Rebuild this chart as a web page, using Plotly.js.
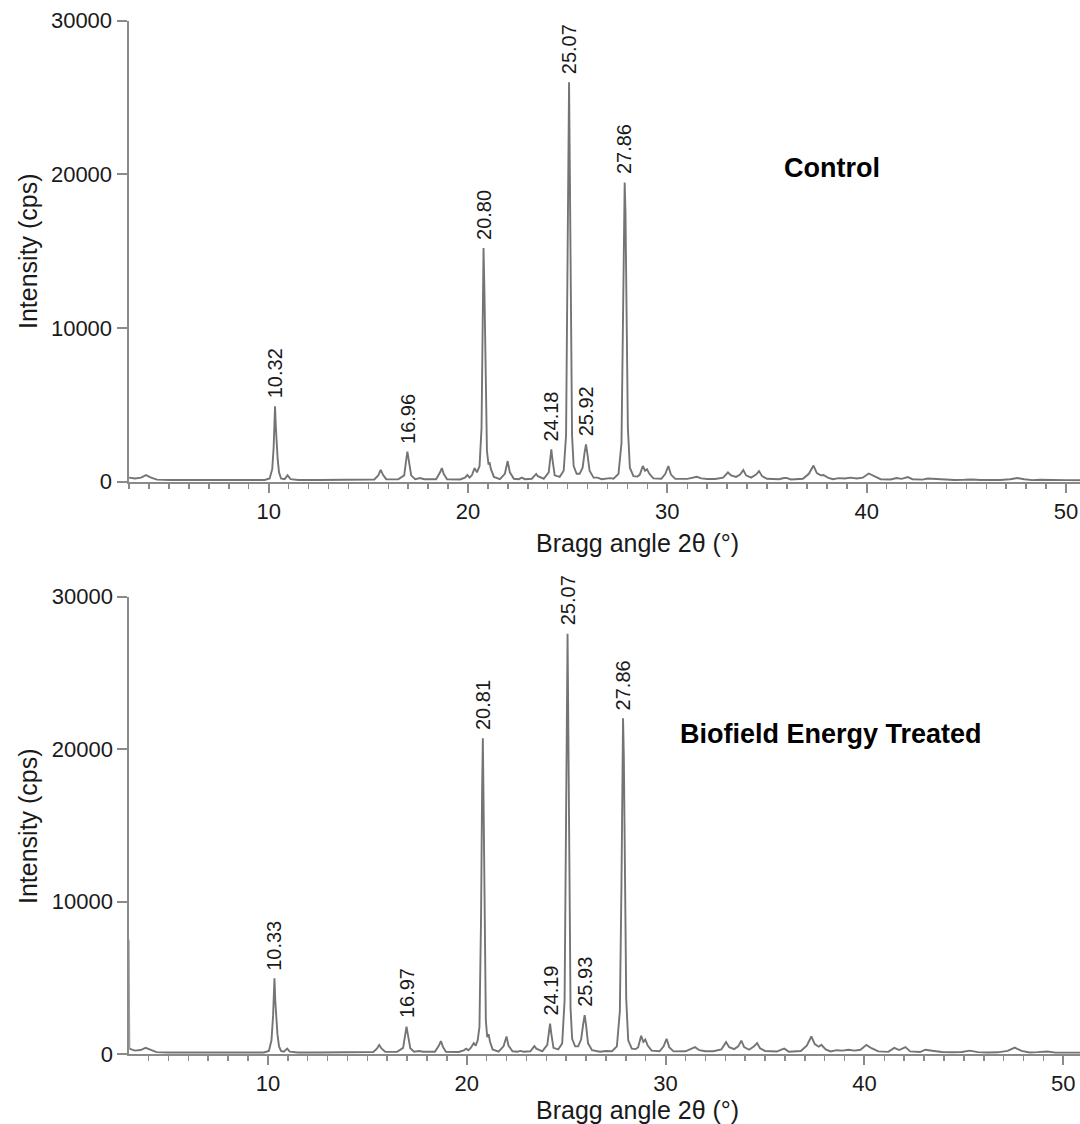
<!DOCTYPE html>
<html>
<head>
<meta charset="utf-8">
<script src="https://cdn.plot.ly/plotly-3.0.1.min.js"></script>
<style>html,body{margin:0;padding:0;background:#fff}#chart{width:1080px;height:1124px}</style>
</head>
<body>
<div id="chart"></div>
<script>
const controlTheta = [3.00,3.3,3.6,3.85,4.1,4.4,5.0,6.0,7.0,8.0,9.0,9.8,10.05,10.18,10.25,10.29,10.32,10.36,10.40,10.45,10.52,10.62,10.8,10.95,11.1,11.5,12.5,13.5,14.5,15.3,15.5,15.62,15.75,15.9,16.5,16.8,16.9,16.96,17.04,17.15,17.35,17.6,17.8,18.4,18.6,18.69,18.78,18.95,19.6,19.85,19.97,20.08,20.2,20.33,20.45,20.58,20.68,20.74,20.78,20.83,20.88,20.95,21.03,21.08,21.15,21.3,21.6,21.85,21.99,22.1,22.3,22.55,22.7,22.85,23.2,23.35,23.42,23.5,23.8,24.05,24.12,24.18,24.24,24.35,24.6,24.8,24.92,24.98,25.02,25.07,25.11,25.16,25.22,25.3,25.45,25.6,25.75,25.85,25.92,25.99,26.1,26.3,26.5,26.7,27.0,27.13,27.3,27.55,27.7,27.78,27.83,27.86,27.9,27.95,28.02,28.12,28.3,28.5,28.62,28.77,28.88,28.98,29.1,29.3,29.7,29.9,30.05,30.18,30.4,31.0,31.3,31.48,31.7,32.0,32.4,32.8,33.04,33.2,33.45,33.65,33.81,33.95,34.2,34.45,34.6,34.75,35.0,35.6,35.85,35.97,36.2,36.8,37.1,37.33,37.5,37.7,37.83,38.05,38.3,38.6,38.9,39.2,39.5,39.8,40.1,40.35,40.7,41.2,41.5,41.75,42.06,42.3,42.8,43.06,43.5,43.9,44.4,44.9,45.3,45.7,46.2,46.7,47.2,47.56,47.9,48.3,48.7,49.2,49.6,50.0,50.4,50.7];
const controlIntensity = [250,200,250,420,250,120,100,100,90,100,90,100,200,800,2200,3800,4900,3600,2300,1500,600,200,150,400,150,100,100,100,110,130,400,750,400,150,140,400,1400,1950,1300,400,150,230,150,150,600,870,500,150,130,250,420,250,420,870,600,1000,3500,10000,15200,12000,6000,2000,1100,1250,800,300,150,500,1330,600,180,150,250,150,180,400,490,350,180,600,1500,2100,1400,400,300,700,3000,14000,22000,26000,20000,9000,3000,1000,500,500,900,1900,2420,1800,700,250,250,150,200,220,180,500,2500,10000,17000,19470,17500,9500,3500,900,350,320,450,1010,700,800,500,200,180,500,1010,450,170,170,250,310,200,160,160,250,590,400,300,450,750,400,250,450,680,350,180,150,230,230,130,180,500,1040,550,400,420,250,150,220,200,250,200,250,520,350,150,130,230,170,290,150,120,190,160,110,100,110,130,100,90,100,150,230,150,90,110,120,80,90,80,80];

// ---- Biofield Energy Treated sample ----
const treatedTheta = [3.00,3.03,3.3,3.6,3.85,4.1,4.4,5.0,6.0,7.0,8.0,9.0,9.8,10.05,10.18,10.26,10.30,10.33,10.37,10.42,10.48,10.56,10.66,10.8,10.97,11.1,11.5,12.5,13.5,14.5,15.3,15.48,15.6,15.72,15.9,16.5,16.8,16.91,16.97,17.05,17.16,17.35,17.6,17.8,18.4,18.6,18.7,18.8,18.95,19.6,19.85,19.97,20.08,20.2,20.35,20.45,20.55,20.64,20.72,20.77,20.81,20.85,20.9,20.96,21.03,21.1,21.17,21.3,21.6,21.85,22.0,22.1,22.3,22.55,22.7,22.85,23.2,23.33,23.4,23.5,23.8,24.05,24.13,24.19,24.25,24.36,24.6,24.8,24.92,24.98,25.03,25.07,25.11,25.16,25.22,25.3,25.45,25.6,25.75,25.86,25.93,26.0,26.1,26.3,26.5,26.7,27.0,27.13,27.3,27.55,27.7,27.78,27.83,27.86,27.9,27.95,28.02,28.12,28.3,28.5,28.62,28.77,28.88,28.98,29.1,29.3,29.7,29.9,30.05,30.18,30.4,31.0,31.3,31.48,31.7,32.0,32.4,32.8,33.04,33.2,33.45,33.65,33.81,33.95,34.2,34.45,34.6,34.75,35.0,35.6,35.85,35.97,36.2,36.8,37.1,37.33,37.5,37.7,37.83,38.05,38.3,38.6,38.9,39.2,39.5,39.8,40.1,40.35,40.7,41.2,41.5,41.75,42.06,42.3,42.8,43.06,43.5,43.9,44.4,44.9,45.3,45.7,46.2,46.7,47.2,47.56,47.9,48.3,48.7,49.2,49.6,50.0,50.4,50.84];
const treatedIntensity = [7500,350,220,260,400,250,120,100,100,90,100,90,100,200,900,2500,4000,4960,3500,2100,1300,500,200,150,350,150,100,100,100,110,130,350,590,350,150,140,400,1300,1800,1200,380,150,200,150,150,550,850,480,150,130,240,350,240,400,710,550,900,1770,9000,17000,20720,16000,7000,2200,1100,1300,800,300,150,500,1150,550,180,150,200,150,180,400,520,350,180,600,1450,2000,1350,400,300,700,3500,16000,24000,27570,21000,9500,3000,1000,500,500,950,2000,2550,1900,700,250,200,150,200,200,180,500,2800,11000,19000,22020,19500,10000,3600,900,350,320,450,1200,800,950,550,220,180,500,1000,450,170,180,350,450,250,180,180,300,780,450,320,500,880,450,280,500,720,380,200,160,300,350,150,200,550,1150,650,480,600,300,170,250,220,280,220,280,600,380,170,140,400,260,450,170,130,280,200,130,110,130,220,120,100,110,200,420,200,100,120,160,90,100,90,90];

// ---- peak labels ----
const controlPeaks = [10.32,16.96,20.80,24.18,25.07,25.92,27.86];
const treatedPeaks = [10.33,16.97,20.81,24.19,25.07,25.93,27.86];

const xTitle = 'Bragg angle 2\u03b8 (\u00b0)';
const yTitle = 'Intensity (cps)';
const panelNames = ['Control','Biofield Energy Treated'];

const W = 1080, H = 1124;
const FONT = 'Arial, "Liberation Sans", Helvetica, sans-serif';
const lineGray = '#8a8a8a';
const traceGray = '#747474';
const textCol = '#1a1a1a';

function peakHeight(thetaArr, intArr, p){
  let best = 0;
  for (let i=0;i<thetaArr.length;i++){
    if (Math.abs(thetaArr[i]-p) <= 0.12 && intArr[i] > best) best = intArr[i];
  }
  return best;
}

const traces = [
  {x: controlTheta, y: controlIntensity, xaxis:'x', yaxis:'y', type:'scatter', mode:'lines',
   line:{color:traceGray, width:1.9}, hoverinfo:'skip'},
  {x: treatedTheta, y: treatedIntensity, xaxis:'x2', yaxis:'y2', type:'scatter', mode:'lines',
   line:{color:traceGray, width:1.9}, hoverinfo:'skip'}
];

const annotations = [];
controlPeaks.forEach(p => annotations.push({
  xref:'x', yref:'y', x:p, y:peakHeight(controlTheta, controlIntensity, p),
  text:p.toFixed(2), textangle:-90, showarrow:false, xanchor:'center', yanchor:'bottom', yshift:6,
  font:{family:FONT, size:20, color:textCol}
}));
treatedPeaks.forEach(p => annotations.push({
  xref:'x2', yref:'y2', x:p, y:peakHeight(treatedTheta, treatedIntensity, p),
  text:p.toFixed(2), textangle:-90, showarrow:false, xanchor:'center', yanchor:'bottom', yshift:6,
  font:{family:FONT, size:20, color:textCol}
}));
// panel names
annotations.push({xref:'paper', yref:'paper', x:832/W, y:1-168/H, text:'<b>'+panelNames[0]+'</b>', showarrow:false,
  xanchor:'center', yanchor:'middle', font:{family:FONT, size:27, color:'#000'}});
annotations.push({xref:'paper', yref:'paper', x:831/W, y:1-734/H, text:'<b>'+panelNames[1]+'</b>', showarrow:false,
  xanchor:'center', yanchor:'middle', font:{family:FONT, size:27, color:'#000'}});
// axis titles
[[543, 251],[1110, 826]].forEach(([xy, yy]) => {
  annotations.push({xref:'paper', yref:'paper', x:637/W, y:1-xy/H, text:xTitle, showarrow:false,
    xanchor:'center', yanchor:'middle', font:{family:FONT, size:25, color:textCol}});
  annotations.push({xref:'paper', yref:'paper', x:28/W, y:1-yy/H, text:yTitle, showarrow:false, textangle:-90,
    xanchor:'center', yanchor:'middle', font:{family:FONT, size:25, color:textCol}});
});

function xAxis(domainStart, range){
  return {domain:[domainStart,1], range:range, showgrid:false, zeroline:false, showline:true,
    linecolor:lineGray, linewidth:2, ticks:'outside', ticklen:9, tickwidth:2, tickcolor:lineGray,
    dtick:10, tick0:0, tickfont:{family:FONT, size:22, color:textCol},
    minor:{dtick:1, tick0:0, ticks:'outside', ticklen:5, tickwidth:1.5, tickcolor:lineGray, showgrid:false},
    automargin:false, fixedrange:true};
}
function yAxis(domain, anchor){
  return {domain:domain, range:[0,30000], anchor:anchor, showgrid:false, zeroline:false, showline:true,
    linecolor:lineGray, linewidth:2, ticks:'outside', ticklen:10, tickwidth:2, tickcolor:lineGray,
    tickvals:[0,10000,20000,30000], ticktext:['0','10000','20000','30000'],
    tickfont:{family:FONT, size:22, color:textCol}, automargin:false, fixedrange:true};
}

const layout = {
  width:W, height:H, margin:{l:0, r:0, t:0, b:0}, paper_bgcolor:'#fff', plot_bgcolor:'#fff',
  showlegend:false,
  xaxis: Object.assign(xAxis(128.5/W, [2.97, 50.70]), {anchor:'y'}),
  yaxis: yAxis([1-481.5/H, 1-20.7/H], 'x'),
  xaxis2: Object.assign(xAxis(129.3/W, [3.03, 50.84]), {anchor:'y2'}),
  yaxis2: yAxis([1-1054/H, 1-596.7/H], 'x2'),
  annotations: annotations
};

Plotly.newPlot('chart', traces, layout, {staticPlot:true, displayModeBar:false});
</script>
</body>
</html>
